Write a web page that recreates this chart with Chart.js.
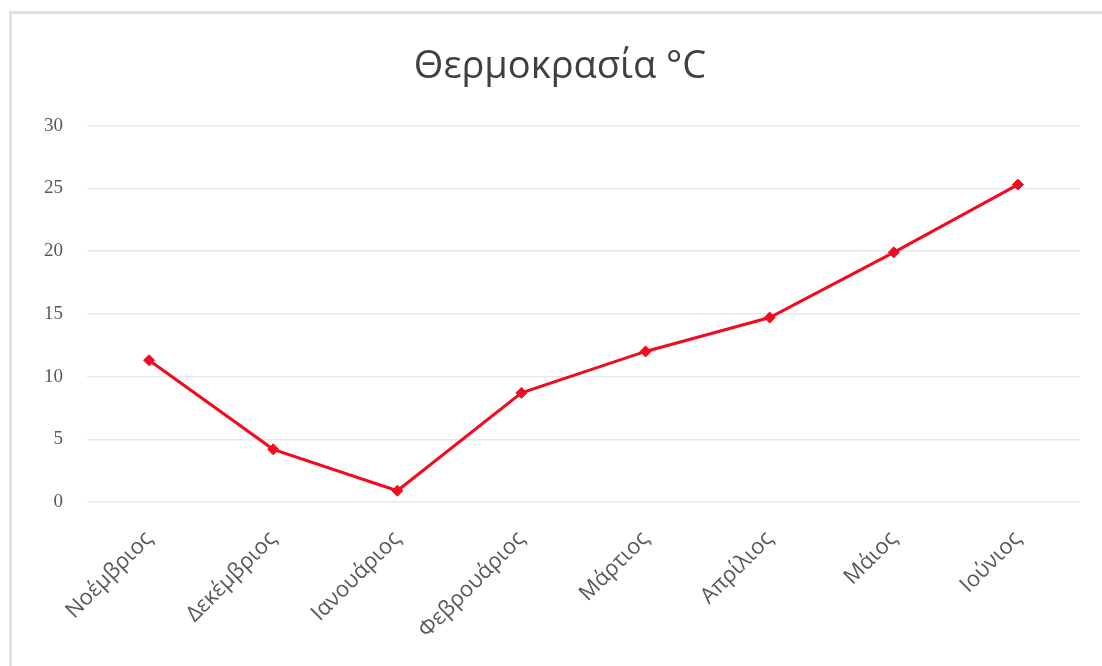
<!DOCTYPE html>
<html lang="el">
<head>
<meta charset="utf-8">
<title>Θερμοκρασία °C</title>
<script src="https://cdn.jsdelivr.net/npm/chart.js@4.4.1/dist/chart.umd.min.js"></script>
<style>
  html, body { margin: 0; padding: 0; background: #fff; }
  #wrap {
    position: relative;
    width: 1102px;
    height: 666px;
    overflow: hidden;
  }
  #frame {
    position: absolute;
    left: 9px;
    top: 11px;
    right: -4px;
    bottom: -4px;
    border-left: 3px solid #e2e2e2;
    border-top: 3px solid #e2e2e2;
    pointer-events: none;
  }
  canvas { position: absolute; left: 0; top: 0; }
</style>
</head>
<body>
<div id="wrap">
  <canvas id="tempChart" width="1102" height="666"></canvas>
  <div id="frame"></div>
</div>
<script>
// Monthly temperatures
const months = [
  "Νοέμβριος", "Δεκέμβριος", "Ιανουάριος", "Φεβρουάριος",
  "Μάρτιος", "Απρίλιος", "Μάιος", "Ιούνιος"
];
const temperatures = [11.3, 4.2, 0.9, 8.7, 12.0, 14.7, 19.9, 25.3];
const yTicks = [0, 5, 10, 15, 20, 25, 30];

document.addEventListener("DOMContentLoaded", () => {
  const ctx = document.getElementById("tempChart").getContext("2d");

  new Chart(ctx, {
    type: "line",
    data: {
      labels: months,
      datasets: [
        {
          label: "Θερμοκρασία",
          data: temperatures,
          borderColor: "#f5091f",
          backgroundColor: "#f5091f",
          borderWidth: 3,
          pointStyle: "rectRot",
          pointRadius: 5.5,
          pointBorderWidth: 1,
          tension: 0,
          fill: false,
        },
      ],
    },
    options: {
      responsive: false,
      animation: false,
      // left padding keeps the title centred over the whole frame
      layout: { padding: { left: 40, right: 22, top: 0, bottom: 0 } },
      plugins: {
        legend: { display: false },
        tooltip: { enabled: false },
        title: {
          display: true,
          text: "Θερμοκρασία °C",
          color: "#404040",
          font: { family: "'Open Sans', 'Noto Sans', sans-serif", size: 38, weight: "normal" },
          padding: { top: 44, bottom: 36 },
        },
      },
      scales: {
        x: {
          offset: true,
          grid: { display: false, drawTicks: false },
          border: { display: false },
          ticks: {
            color: "#595959",
            font: { family: "'Open Sans', 'Noto Sans', sans-serif", size: 22 },
            minRotation: 45,
            maxRotation: 45,
            padding: 24,
          },
          afterFit: (scale) => { scale.height = 164; },
        },
        y: {
          min: 0,
          max: 30,
          afterBuildTicks: (scale) => {
            scale.ticks = yTicks.map((v) => ({ value: v }));
          },
          grid: { color: "#e8e8e8", lineWidth: 1.5, drawTicks: false },
          border: { display: false },
          ticks: {
            color: "#595959",
            font: { family: "'Liberation Serif', 'DejaVu Serif', serif", size: 19 },
            padding: 24,
          },
          afterFit: (scale) => { scale.width = 47; },
        },
      },
    },
  });
});
</script>
</body>
</html>
